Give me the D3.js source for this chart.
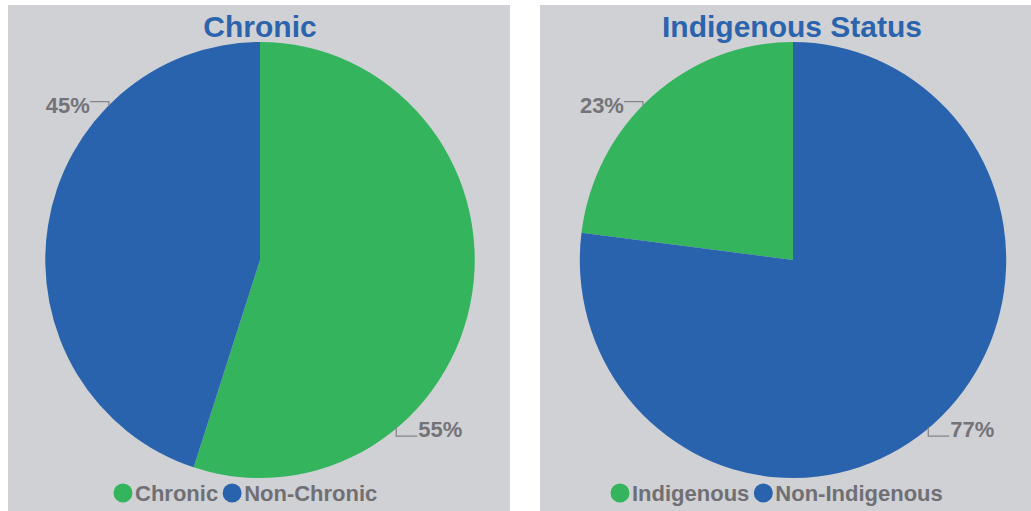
<!DOCTYPE html>
<html lang="en">
<head>
<meta charset="UTF-8">
<title>Chronic / Indigenous Status</title>
<script src="https://d3js.org/d3.v7.min.js"></script>
<style>
  body { margin: 0; background: #ffffff; overflow: hidden; }
  svg { display: block; }
  text { font-family: 'Liberation Sans', Arial, sans-serif; }
  .title { font-size: 30px; font-weight: bold; fill: #2b64ad; }
  .pct { font-size: 22px; font-weight: bold; fill: #747478; }
  .legend { font-size: 22px; font-weight: bold; fill: #6f6f74; }
  .leader { fill: none; stroke: #85868a; stroke-width: 1.3px; }
</style>
</head>
<body>
<svg width="1031" height="511"></svg>
<script>
// chart data
const chronicTitle = 'Chronic';
const chronicLabels = ['Chronic', 'Non-Chronic'];
const chronicValues = [55, 45];

const indigTitle = 'Indigenous Status';
const indigLabels = ['Indigenous', 'Non-Indigenous'];
const indigValues = [23, 77];

const colors = ['#35b45e', '#2963ad'];

const svg = d3.select('svg');

// panel layout (positions only); the pies are a touch taller than wide
const panels = [
  { title: chronicTitle, labels: chronicLabels, values: chronicValues,
    x: 8, w: 502, titleX: 260, cx: 260, cy: 260, r: 218, sx: 0.985, clockwise: true,
    legendX: 114 },
  { title: indigTitle, labels: indigLabels, values: indigValues,
    x: 540, w: 491, titleX: 792, cx: 793, cy: 260, r: 218, sx: 0.978, clockwise: false,
    legendX: 611 }
];

panels.forEach(p => {
  const g = svg.append('g');

  g.append('rect')
    .attr('x', p.x).attr('y', 5)
    .attr('width', p.w).attr('height', 511)
    .attr('fill', '#d0d1d5');

  g.append('text')
    .attr('class', 'title')
    .attr('x', p.titleX)
    .attr('y', 37)
    .attr('text-anchor', 'middle')
    .text(p.title);

  const total = d3.sum(p.values);
  // first slice goes clockwise from 12 o'clock, or ends at 12 o'clock
  const start = p.clockwise ? 0 : -2 * Math.PI * p.values[0] / total;
  const pie = d3.pie().sort(null).startAngle(start).endAngle(start + 2 * Math.PI);
  const arc = d3.arc().innerRadius(0).outerRadius(p.r);

  const pg = g.append('g').attr('transform', `translate(${p.cx},${p.cy})`);
  const arcs = pie(p.values);

  pg.append('g')
    .attr('transform', `scale(${p.sx},1)`)
    .selectAll('path')
    .data(arcs)
    .enter().append('path')
    .attr('d', arc)
    .attr('fill', (d, i) => colors[i]);

  // data labels: one up-left, one down-right, like the best-fit labels
  arcs.forEach((d, i) => {
    const mid = (d.startAngle + d.endAngle) / 2;
    const norm = ((mid % (2 * Math.PI)) + 2 * Math.PI) % (2 * Math.PI);
    const upper = norm > Math.PI;
    const ang = upper ? -Math.PI / 4 : Math.PI * 0.78;
    const ax = Math.sin(ang) * (p.r - 1) * p.sx;
    const ay = -Math.cos(ang) * (p.r - 1);
    const ey = upper ? ay - 5 : ay + 9;
    const ex = upper ? ax - 19 : ax + 21;
    pg.append('path')
      .attr('class', 'leader')
      .attr('d', `M${ax},${ay}L${ax},${ey}L${ex},${ey}`);
    pg.append('text')
      .attr('class', 'pct')
      .attr('x', upper ? ex : ex + 1)
      .attr('y', upper ? ey + 11 : ey + 1)
      .attr('text-anchor', upper ? 'end' : 'start')
      .text(Math.round(d.data / total * 100) + '%');
  });

  // legend
  const lg = g.append('g').attr('transform', `translate(${p.legendX},493)`);
  let lx = 0;
  p.labels.forEach((lab, i) => {
    lg.append('circle')
      .attr('cx', lx + 9).attr('cy', 0).attr('r', 9.5)
      .attr('fill', colors[i]);
    const t = lg.append('text')
      .attr('class', 'legend')
      .attr('x', lx + 21)
      .attr('y', 8)
      .text(lab);
    lx += 21 + t.node().getComputedTextLength() + 5;
  });
});
</script>
</body>
</html>
